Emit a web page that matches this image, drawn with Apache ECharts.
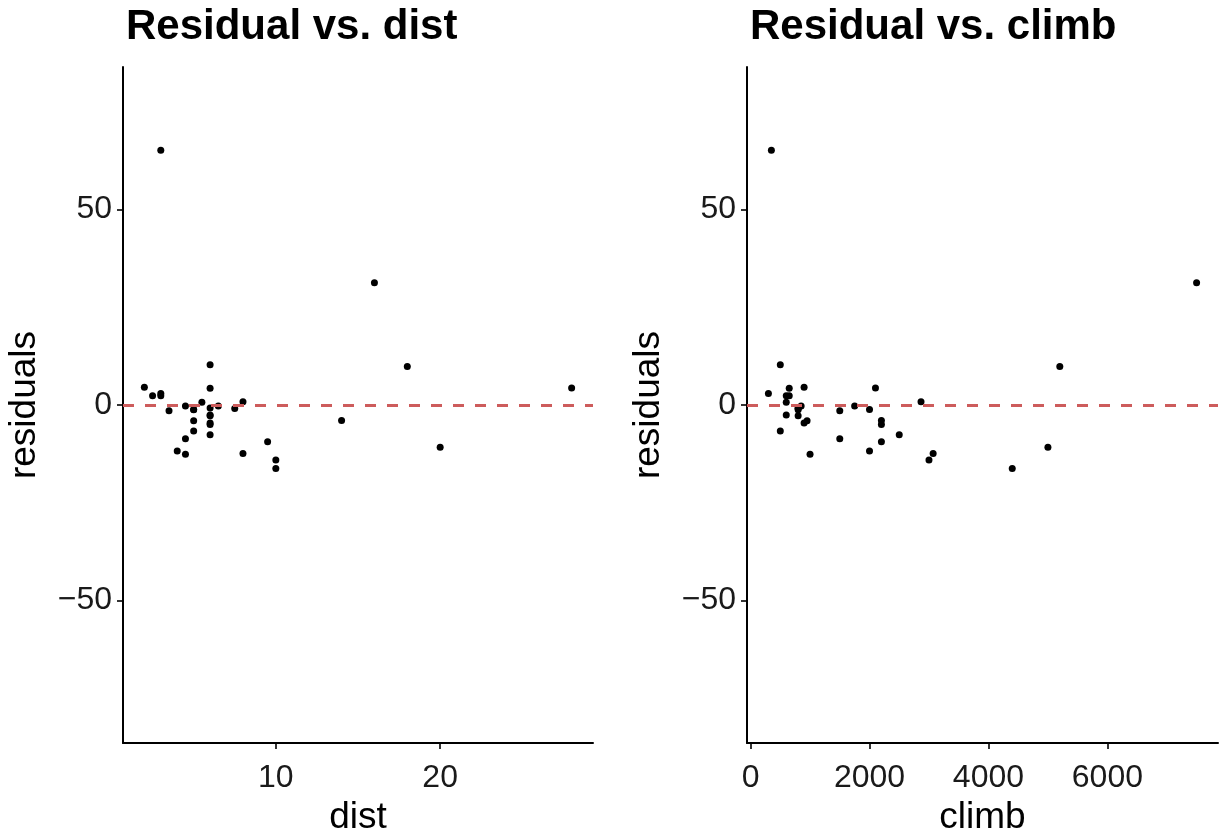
<!DOCTYPE html>
<html>
<head>
<meta charset="utf-8">
<script src="https://cdn.jsdelivr.net/npm/echarts@6/dist/echarts.min.js"></script>
<style>
html,body{margin:0;padding:0;background:#fff;}
#c{width:1225px;height:833px;}
</style>
</head>
<body>
<div id="c"></div>
<script>
// hills data: dist, climb, residuals of time ~ dist + climb
const hillNames = ["Greenmantle","Carnethy","Craig Dunain","Ben Rha","Ben Lomond","Goatfell","Bens of Jura","Cairnpapple","Scolty","Traprain","Lairig Ghru","Dollar","Lomonds","Cairn Table","Eildon Two","Cairngorm","Seven Hills","Knock Hill","Black Hill","Creag Beag","Kildcon Hill","Meall Ant-Suidhe","Half Ben Nevis","Cow Hill","N Berwick Law","Creag Dubh","Burnswark","Largo Law","Criffel","Acmony","Ben Nevis","Knockfarrel","Two Breweries","Cockleroi","Moffat Chase"];
const dist = [2.5,6,6,7.5,8,8,16,6,5,6,28,5,9.5,6,4.5,10,14,3,4.5,5.5,3,3.5,6,2,3,4,6,5,6.5,5,10,6,18,4.5,20];
const climb = [650,2500,900,800,3070,2866,7500,800,800,650,2100,2000,2200,500,1500,3000,2200,350,1000,600,300,1500,2200,900,600,2000,800,950,1750,500,4400,600,5200,850,5000];
const residuals = [2.35,-7.59,-4.61,-0.88,-12.40,0.80,31.26,-0.79,-1.19,4.25,4.35,-1.14,-9.39,10.29,-8.63,-14.08,-3.95,65.12,-12.62,0.73,2.97,-1.44,-4.99,4.55,2.39,-11.76,-2.72,-4.03,-0.26,-6.67,-16.22,-2.56,9.87,-0.28,-10.78];
const yTicks = [-50, 0, 50];
const distTicks = [10, 20];
const climbTicks = [0, 2000, 4000, 6000];
const titles = ["Residual vs. dist", "Residual vs. climb"];
const xNames = ["dist", "climb"];
const yName = "residuals";

const FONT = "Liberation Sans, Arial, Helvetica, sans-serif";
const fmt = v => String(v).replace('-', '\u2212');

function xAxisCfg(gi, name, min, max, ticks) {
  return {
    type: 'value', gridIndex: gi, min: min, max: max,
    name: name, nameLocation: 'middle', nameGap: 49,
    nameTextStyle: {fontFamily: FONT, fontSize: 37, color: '#000'},
    axisLine: {show: true, onZero: false, lineStyle: {color: '#000', width: 2}},
    axisTick: {show: true, length: 6, lineStyle: {color: '#000', width: 1.6}, customValues: ticks},
    axisLabel: {show: true, margin: 19, fontFamily: FONT, fontSize: 32, color: '#1a1a1a', customValues: ticks, formatter: fmt},
    splitLine: {show: false}
  };
}
function yAxisCfg(gi) {
  return {
    type: 'value', gridIndex: gi, min: -86.4, max: 86.4,
    name: yName, nameLocation: 'middle', nameGap: 80, nameRotate: 90,
    nameTextStyle: {fontFamily: FONT, fontSize: 37, color: '#000'},
    axisLine: {show: true, onZero: false, lineStyle: {color: '#000', width: 2}},
    axisTick: {show: true, length: 6, lineStyle: {color: '#000', width: 1.6}, customValues: yTicks},
    axisLabel: {show: true, margin: 11, fontFamily: FONT, fontSize: 32, color: '#1a1a1a', customValues: yTicks, formatter: fmt},
    splitLine: {show: false}
  };
}
function scatter(gi, xs) {
  return {
    type: 'scatter', xAxisIndex: gi, yAxisIndex: gi,
    symbolSize: 7, itemStyle: {color: '#000', opacity: 1},
    data: xs.map((x, i) => [x, residuals[i]]),
    markLine: {
      silent: true, symbol: ['none', 'none'], label: {show: false},
      lineStyle: {color: '#CD5C5C', type: [11, 11], width: 2.8},
      data: [{yAxis: 0}],
      animation: false
    },
    z: 3
  };
}

const chart = echarts.init(document.getElementById('c'), null, {renderer: 'canvas'});
chart.setOption({
  animation: false,
  backgroundColor: '#fff',
  title: [
    {text: titles[0], left: 121, top: 1, textStyle: {fontFamily: FONT, fontSize: 42, fontWeight: 'bold', color: '#000'}},
    {text: titles[1], left: 745, top: 1, textStyle: {fontFamily: FONT, fontSize: 42, fontWeight: 'bold', color: '#000'}}
  ],
  grid: [
    {left: 123, top: 67, width: 470, height: 676, containLabel: false, outerBoundsMode: 'none'},
    {left: 747, top: 67, width: 471, height: 676, containLabel: false, outerBoundsMode: 'none'}
  ],
  xAxis: [
    xAxisCfg(0, xNames[0], 0.7, 29.3, distTicks),
    xAxisCfg(1, xNames[1], -60, 7860, climbTicks)
  ],
  yAxis: [yAxisCfg(0), yAxisCfg(1)],
  series: [scatter(0, dist), scatter(1, climb)]
});
</script>
</body>
</html>
